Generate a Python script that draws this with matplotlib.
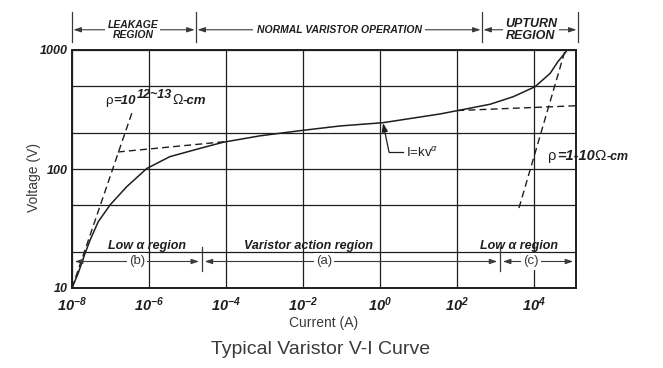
import numpy as np
import matplotlib
matplotlib.use('Agg')
import matplotlib.pyplot as plt
from matplotlib.ticker import NullLocator

plt.rcParams['font.family'] = ['Liberation Sans', 'DejaVu Sans']
plt.rcParams['mathtext.fontset'] = 'custom'
plt.rcParams['mathtext.rm'] = 'Liberation Sans'
plt.rcParams['mathtext.it'] = 'Liberation Sans:italic'
plt.rcParams['mathtext.bf'] = 'Liberation Sans:bold:italic'

# ---------------- data (log10 of current in A, voltage in V) ----------------
curve_log_current = [-8.0, -7.84, -7.66, -7.53, -7.32, -7.01, -6.58, -6.06, -5.46,
                     -4.68, -4.07, -3.12, -2.08, -1.04, 0.07, 1.55, 1.99, 2.85,
                     3.19, 3.45, 4.02, 4.41, 4.61, 4.80, 4.85]
curve_voltage = [10, 13.3, 19.6, 25.3, 36, 50, 71, 101, 127,
                 149, 168, 190, 210, 230, 245, 290, 309, 350,
                 380, 405, 492, 637, 798, 948, 1000]

leak_asym_log_current = [-8.0, -6.42]
leak_asym_voltage = [10, 313]
normal_left_log_current = [-6.81, -4.0]
normal_left_voltage = [139, 170]
normal_right_log_current = [2.0, 5.08]
normal_right_voltage = [310, 340]
upturn_asym_log_current = [3.60, 4.80]
upturn_asym_voltage = [47, 1000]

x_tick_exponents = [-8, -6, -4, -2, 0, 2, 4]
y_major_ticks = [10, 100, 1000]
y_minor_ticks = [20, 50, 200, 500]

top_region_bounds = [-8.0, -4.78, 2.64, 5.13]
top_region_labels = ['LEAKAGE\nREGION', 'NORMAL VARISTOR OPERATION', 'UPTURN\nREGION']
top_label_centers = [-6.42, -1.07, 3.91]

bottom_region_bounds = [-8.0, -4.63, 3.11, 5.08]
bottom_tags = ['(b)', '(a)', '(c)']
bottom_tag_centers = [-6.31, -1.46, 3.91]
bottom_region_labels = ['Low α region', 'Varistor action region', 'Low α region']
bottom_label_centers = [-6.05, -1.87, 3.60]

# ---------------- figure ----------------
W, H = 663, 368
fig = plt.figure(figsize=(W / 100, H / 100), dpi=100)
ax = fig.add_axes([72 / W, 1 - 288 / H, 504 / W, 238 / H])
ax.set_xscale('log')
ax.set_yscale('log')
ax.set_xlim(1e-8, 10 ** 5.08)
ax.set_ylim(10, 1000)

ink = '#1e1e1e'
gray = '#3a3a3a'

ax.set_xticks([10.0 ** e for e in x_tick_exponents])
ax.set_xticklabels([r'$\mathbf{10^{%d}}$' % e for e in x_tick_exponents], fontsize=10.5, color=ink)
ax.xaxis.set_minor_locator(NullLocator())
ax.set_yticks(y_major_ticks)
ax.set_yticklabels([str(v) for v in y_major_ticks], fontsize=9, fontweight='bold',
                   fontstyle='italic', color=ink)
ax.set_yticks(y_minor_ticks, minor=True)
ax.yaxis.set_minor_formatter(plt.NullFormatter())
ax.tick_params(which='both', length=0)
ax.tick_params(axis='x', pad=5)
ax.tick_params(axis='y', pad=3)
ax.grid(True, which='both', color=ink, lw=0.9)
ax.set_axisbelow(True)
for s in ax.spines.values():
    s.set_linewidth(1.4)
    s.set_color(ink)

cur = lambda arr: [10.0 ** e for e in arr]

ax.plot(cur(curve_log_current), curve_voltage, color=ink, lw=1.1, zorder=3)
dash = (0, (5, 3))
for xs, ys in [(leak_asym_log_current, leak_asym_voltage),
               (normal_left_log_current, normal_left_voltage),
               (normal_right_log_current, normal_right_voltage),
               (upturn_asym_log_current, upturn_asym_voltage)]:
    ax.plot(cur(xs), ys, color=ink, lw=1.0, ls=dash, zorder=3)

# ---------------- top region markers ----------------
tx = ax.get_xaxis_transform()
for b in top_region_bounds:
    ax.plot([10 ** b, 10 ** b], [1.034, 1.160], transform=tx, color=gray, lw=0.9, clip_on=False)
arrow_kw = dict(arrowstyle='<|-|>,head_length=0.45,head_width=0.15', color=gray, lw=0.8,
                shrinkA=1, shrinkB=1)
for i in range(3):
    ax.annotate('', xy=(10 ** top_region_bounds[i + 1], 1.085), xytext=(10 ** top_region_bounds[i], 1.085),
                xycoords=tx, textcoords=tx, arrowprops=arrow_kw, annotation_clip=False)
    fs = 9 if i == 2 else 7.5
    ax.text(10 ** top_label_centers[i], 1.084, top_region_labels[i], transform=tx,
            ha='center', va='center', fontsize=fs, fontweight='bold', fontstyle='italic',
            color=ink, linespacing=1.05,
            bbox=dict(facecolor='white', edgecolor='none', pad=1.5 if i != 1 else 2.5))

# ---------------- bottom region markers ----------------
arrow_v = 16.7
for b in bottom_region_bounds[1:3]:
    ax.plot([10 ** b, 10 ** b], [13.9, 22.1], color=gray, lw=0.9, zorder=4)
for i in range(3):
    ax.annotate('', xy=(10 ** bottom_region_bounds[i + 1], arrow_v), xytext=(10 ** bottom_region_bounds[i], arrow_v),
                arrowprops=dict(arrowstyle='<|-|>,head_length=0.45,head_width=0.15', color=gray, lw=0.8,
                                shrinkA=2, shrinkB=2), zorder=4)
    ax.text(10 ** bottom_tag_centers[i], arrow_v, bottom_tags[i], ha='center', va='center',
            fontsize=9.5, color=gray, zorder=5,
            bbox=dict(facecolor='white', edgecolor='none', pad=1.5))
    ax.text(10 ** bottom_label_centers[i], 22.6, bottom_region_labels[i], ha='center', va='center',
            fontsize=9, fontweight='bold', fontstyle='italic', color=ink, zorder=5)


# ---------------- chained rich-text labels ----------------
def rich_text(x, y, parts, fontsize):
    """parts: list of (text, bold_italic, size_factor, dx_points, raise_points)"""
    first = None
    prev = None
    for txt, bi, sf, dx, dy in parts:
        kw = dict(fontsize=fontsize * sf, color=ink, zorder=5,
                  fontweight='bold' if bi else 'normal',
                  fontstyle='italic' if bi else 'normal')
        if first is None:
            first = ax.text(x, y, txt, ha='left', va='bottom', **kw)
            prev = first
        else:
            prev = ax.annotate(txt, xy=(1, 0), xycoords=(prev, first), xytext=(dx, dy),
                               textcoords='offset points', ha='left', va='bottom',
                               annotation_clip=False, **kw)
    return first


rich_text(10 ** -7.14, 330, [('ρ', False, 1.0, 0, 0), ('=10', True, 1.0, 0.3, 0),
                             ('12~13', True, 0.95, 0.6, 4.5), ('Ω', False, 1.05, 0.3, 0),
                             ('-cm', True, 1.0, 0.3, 0)], 9.5)
rich_text(10 ** 4.35, 112, [('ρ', False, 1.0, 0, 0), ('=1-10', True, 1.0, 0.3, 0),
                            ('Ω', False, 1.05, 0.3, 0), ('-cm', True, 0.85, 0.5, 0)], 10.5)

ax.text(10 ** 0.66, 136, r'I=kv$^{α}$', ha='left', va='center', fontsize=9.5, color=ink, zorder=5)
ax.plot([10 ** 0.227, 10 ** 0.58], [139, 139], color=ink, lw=0.9, zorder=4)
ax.annotate('', xy=(10 ** 0.072, 243), xytext=(10 ** 0.227, 139),
            arrowprops=dict(arrowstyle='-|>,head_length=0.5,head_width=0.18', color=ink, lw=0.9,
                            shrinkA=0, shrinkB=0), zorder=4)

# ---------------- labels ----------------
fig.text(324 / W, 1 - 323 / H, 'Current (A)', ha='center', va='center', fontsize=10, color=gray)
fig.text(34 / W, 1 - 178 / H, 'Voltage (V)', ha='center', va='center', rotation=90, fontsize=10, color=gray)
fig.text(321 / W, 1 - 349 / H, 'Typical Varistor V-I Curve', ha='center', va='center', fontsize=14, color=gray)

fig.savefig('out.png', dpi=100)
